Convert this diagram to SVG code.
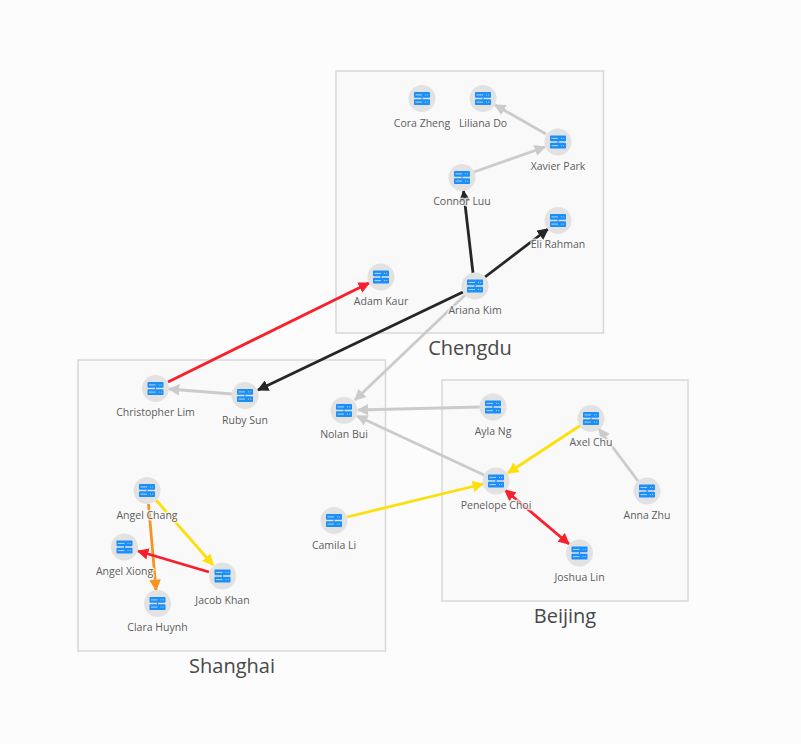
<svg xmlns="http://www.w3.org/2000/svg" width="801" height="744" viewBox="0 0 801 744">
<style>
text{font-family:"Open Sans","Noto Sans",sans-serif;text-anchor:middle}
.grp rect{fill:#f9f9f9;stroke:#d8d8d8;stroke-width:1.5}
.grp text{font-size:20px;fill:#484848}
.halo{fill:#e2e2e2}
.lbl{font-size:10.5px;fill:#5c5c5c;paint-order:stroke;stroke:#fbfbfb;stroke-opacity:.75;stroke-width:3px;stroke-linejoin:round}
.edge{fill:none;stroke-width:2.8}
.gray{stroke:#cbcbcb}.black{stroke:#262626}.red{stroke:#f8202c}.yellow{stroke:#fddf0c}.orange{stroke:#f9931f}
.agray{fill:#cbcbcb}.ablack{fill:#262626}.ared{fill:#f8202c}.ayellow{fill:#fddf0c}.aorange{fill:#f9931f}
</style>
<defs>
<marker id="m-gray" viewBox="0 0 10 10" refX="9" refY="5" markerWidth="11.500" markerHeight="11.500" markerUnits="userSpaceOnUse" orient="auto-start-reverse"><path class="agray" d="M0 0L10 5L0 10Z"/></marker>
<marker id="m-black" viewBox="0 0 10 10" refX="9" refY="5" markerWidth="11.500" markerHeight="11.500" markerUnits="userSpaceOnUse" orient="auto-start-reverse"><path class="ablack" d="M0 0L10 5L0 10Z"/></marker>
<marker id="m-red" viewBox="0 0 10 10" refX="9" refY="5" markerWidth="11.500" markerHeight="11.500" markerUnits="userSpaceOnUse" orient="auto-start-reverse"><path class="ared" d="M0 0L10 5L0 10Z"/></marker>
<marker id="m-yellow" viewBox="0 0 10 10" refX="9" refY="5" markerWidth="11.500" markerHeight="11.500" markerUnits="userSpaceOnUse" orient="auto-start-reverse"><path class="ayellow" d="M0 0L10 5L0 10Z"/></marker>
<marker id="m-orange" viewBox="0 0 10 10" refX="9" refY="5" markerWidth="11.500" markerHeight="11.500" markerUnits="userSpaceOnUse" orient="auto-start-reverse"><path class="aorange" d="M0 0L10 5L0 10Z"/></marker>
<g id="server">
<circle class="halo" r="13.500"/>
<rect x="-8" y="-6.500" width="16" height="5.800" rx="0.800" fill="#1b8ef8"/>
<rect x="-8" y="0.700" width="16" height="5.800" rx="0.800" fill="#1b8ef8"/>
<rect x="-0.600" y="-1" width="1.200" height="2" fill="#1b8ef8"/>
<path d="M-6.500 -3.600H0M-6.500 3.600H0" stroke="#d5e9fc" stroke-width="0.800"/>
<path d="M3 -3.600H4M5.200 -3.600H6.200M3 3.600H4M5.200 3.600H6.200" stroke="#d5e9fc" stroke-width="0.800"/>
</g>
</defs>
<rect width="801" height="744" fill="#fcfcfc"/>

<g id="groups">
<g id="group-chengdu" class="grp"><rect x="336" y="71" width="267.500" height="262"/><text x="470" y="355">Chengdu</text></g>
<g id="group-shanghai" class="grp"><rect x="78" y="360" width="307.500" height="291"/><text x="232" y="673">Shanghai</text></g>
<g id="group-beijing" class="grp"><rect x="442" y="380" width="246" height="221"/><text x="565" y="623">Beijing</text></g>
</g>

<g id="connectors">
<line class="edge gray" x1="546" y1="134" x2="495" y2="105" marker-end="url(#m-gray)"/>
<line class="edge gray" x1="474" y1="172" x2="545" y2="147" marker-end="url(#m-gray)"/>
<line class="edge black" x1="473" y1="273" x2="463.500" y2="191" marker-end="url(#m-black)"/>
<line class="edge black" x1="485" y1="277" x2="548" y2="229" marker-end="url(#m-black)"/>
<line class="edge black" x1="463" y1="292" x2="258" y2="390" marker-end="url(#m-black)"/>
<line class="edge gray" x1="465" y1="295" x2="355" y2="400" marker-end="url(#m-gray)"/>
<line class="edge red" x1="168" y1="382" x2="369" y2="283" marker-end="url(#m-red)"/>
<line class="edge gray" x1="232" y1="394" x2="169" y2="389" marker-end="url(#m-gray)"/>
<line class="edge gray" x1="480" y1="407" x2="358" y2="410" marker-end="url(#m-gray)"/>
<line class="edge gray" x1="484" y1="475" x2="357" y2="416" marker-end="url(#m-gray)"/>
<line class="edge gray" x1="638" y1="481" x2="599" y2="429" marker-end="url(#m-gray)"/>
<line class="edge yellow" x1="581" y1="425" x2="508" y2="473" marker-end="url(#m-yellow)"/>
<line class="edge yellow" x1="347" y1="517" x2="483" y2="484" marker-end="url(#m-yellow)"/>
<line class="edge red" x1="505" y1="490" x2="569" y2="544" marker-start="url(#m-red)" marker-end="url(#m-red)"/>
<line class="edge yellow" x1="156" y1="500" x2="213" y2="565" marker-end="url(#m-yellow)"/>
<line class="edge orange" x1="148.500" y1="504" x2="156" y2="590" marker-end="url(#m-orange)"/>
<line class="edge red" x1="209" y1="572" x2="138" y2="551" marker-end="url(#m-red)"/>
</g>

<g id="nodes">
<g id="cora-zheng"><use href="#server" x="422" y="98.500"/><text class="lbl" x="422" y="127">Cora Zheng</text></g>
<g id="liliana-do"><use href="#server" x="483" y="98.500"/><text class="lbl" x="483" y="127">Liliana Do</text></g>
<g id="xavier-park"><use href="#server" x="558" y="142"/><text class="lbl" x="558" y="170">Xavier Park</text></g>
<g id="connor-luu"><use href="#server" x="462" y="177.500"/><text class="lbl" x="462" y="205">Connor Luu</text></g>
<g id="eli-rahman"><use href="#server" x="558" y="220.500"/><text class="lbl" x="558" y="248">Eli Rahman</text></g>
<g id="adam-kaur"><use href="#server" x="381" y="277"/><text class="lbl" x="381" y="305">Adam Kaur</text></g>
<g id="ariana-kim"><use href="#server" x="475" y="286"/><text class="lbl" x="475" y="314">Ariana Kim</text></g>
<g id="christopher-lim"><use href="#server" x="155.500" y="388.500"/><text class="lbl" x="155.500" y="416">Christopher Lim</text></g>
<g id="ruby-sun"><use href="#server" x="245" y="395.500"/><text class="lbl" x="245" y="424">Ruby Sun</text></g>
<g id="nolan-bui"><use href="#server" x="344" y="410.500"/><text class="lbl" x="344" y="438">Nolan Bui</text></g>
<g id="ayla-ng"><use href="#server" x="493" y="407"/><text class="lbl" x="493" y="435">Ayla Ng</text></g>
<g id="axel-chu"><use href="#server" x="591" y="418.500"/><text class="lbl" x="591" y="446">Axel Chu</text></g>
<g id="penelope-choi"><use href="#server" x="496" y="481"/><text class="lbl" x="496" y="509">Penelope Choi</text></g>
<g id="anna-zhu"><use href="#server" x="647" y="491"/><text class="lbl" x="647" y="519">Anna Zhu</text></g>
<g id="joshua-lin"><use href="#server" x="579.500" y="553"/><text class="lbl" x="579.500" y="581">Joshua Lin</text></g>
<g id="camila-li"><use href="#server" x="334" y="520.500"/><text class="lbl" x="334" y="549">Camila Li</text></g>
<g id="angel-chang"><use href="#server" x="147" y="490.500"/><text class="lbl" x="147" y="519">Angel Chang</text></g>
<g id="angel-xiong"><use href="#server" x="124.500" y="547"/><text class="lbl" x="124.500" y="575">Angel Xiong</text></g>
<g id="jacob-khan"><use href="#server" x="222.500" y="576"/><text class="lbl" x="222.500" y="604">Jacob Khan</text></g>
<g id="clara-huynh"><use href="#server" x="157.500" y="603.500"/><text class="lbl" x="157.500" y="631">Clara Huynh</text></g>
</g>
</svg>
